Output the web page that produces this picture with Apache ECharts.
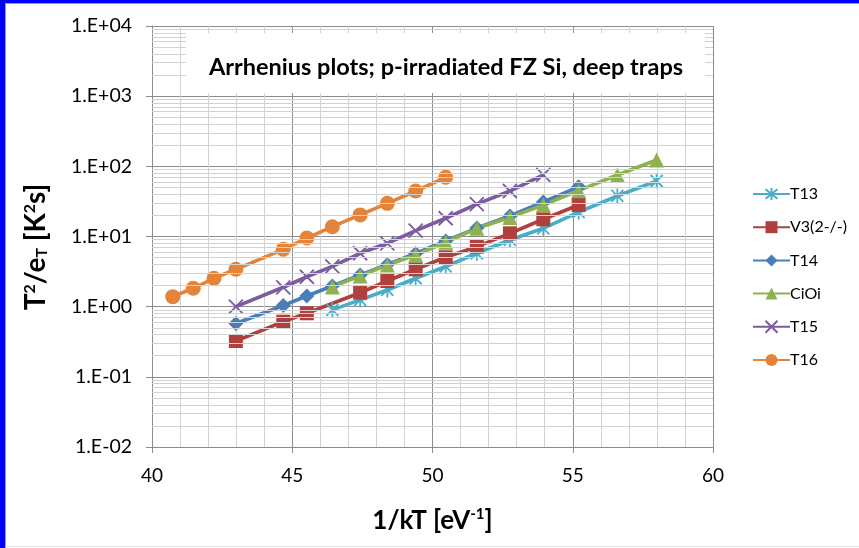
<!DOCTYPE html>
<html>
<head>
<meta charset="utf-8">
<script src="https://cdn.jsdelivr.net/npm/echarts@6/dist/echarts.min.js"></script>
<style>
  html, body { margin: 0; padding: 0; background: #fff; }
  #chart { width: 859px; height: 548px; }
</style>
</head>
<body>
<div id="chart"></div>
<script>
// 1/kT positions (eV^-1) and T^2/e_T values (K^2 s) for each trap
const t13X = [46.43, 47.42, 48.39, 49.40, 50.47, 51.58, 52.76, 53.95, 55.21, 56.59, 57.99];
const t13Y = [0.90, 1.25, 1.73, 2.54, 3.74, 5.77, 8.92, 13.1, 22.3, 37.8, 61.8];

const v3X = [42.99, 44.68, 45.52, 47.42, 48.39, 49.40, 50.47, 51.58, 52.76, 53.95, 55.21];
const v3Y = [0.324, 0.611, 0.805, 1.58, 2.32, 3.41, 5.06, 7.16, 11.1, 17.6, 28.1];

const t14X = [42.99, 44.68, 45.52, 46.43, 47.42, 48.39, 49.40, 50.47, 51.58, 52.76, 53.95, 55.21];
const t14Y = [0.575, 1.04, 1.42, 1.97, 2.83, 3.99, 5.73, 8.63, 13.2, 19.6, 31.0, 51.0];

const cioiX = [46.43, 47.42, 48.39, 49.40, 50.47, 51.58, 52.76, 53.95, 55.21, 56.59, 57.99];
const cioiY = [1.91, 2.74, 3.93, 5.45, 8.27, 13.1, 18.7, 28.1, 45.0, 75.3, 123];

const t15X = [42.99, 44.68, 45.52, 46.43, 47.42, 48.39, 49.40, 50.47, 51.58, 52.76, 53.95];
const t15Y = [1.0, 1.89, 2.67, 3.76, 5.77, 8.0, 12.1, 18.2, 29.0, 44.5, 75.3];

const t16X = [40.74, 41.47, 42.21, 42.99, 44.68, 45.52, 46.43, 47.42, 48.39, 49.40, 50.47];
const t16Y = [1.39, 1.83, 2.54, 3.41, 6.57, 9.5, 13.8, 20.3, 29.7, 44.5, 69.8];

const seriesNames = ['T13', 'V3(2-/-)', 'T14', 'CiOi', 'T15', 'T16'];
const yTickValues = [0.01, 0.1, 1, 10, 100, 1000, 10000];
const yTickLabels = ['1.E-02', '1.E-01', '1.E+00', '1.E+01', '1.E+02', '1.E+03', '1.E+04'];
const xTicks = [40, 45, 50, 55, 60];

const FONT = 'Lato, "Noto Sans", sans-serif';
const MAJOR = '#8c8c8c';
const MINOR = '#d2d2d2';

// log-decade subdivisions (2..9 of every decade) used for the fine horizontal grid
const minorY = [];
for (let d = -2; d < 4; d++) {
  for (let m = 2; m <= 9; m++) minorY.push(+(m * Math.pow(10, d)).toPrecision(3));
}

const ASTERISK = 'path://M0,-10 L0,10 M-8,-8 L8,8 M-8,8 L8,-8';
const CROSS = 'path://M-10,-10 L10,10 M-10,10 L10,-10';

function pairs(xs, ys) { return xs.map((x, i) => [x, ys[i]]); }

function lineSeries(name, xs, ys, color, symbol, size, stroked) {
  return {
    name: name,
    type: 'line',
    data: pairs(xs, ys),
    symbol: symbol,
    symbolSize: size,
    symbolKeepAspect: true,
    showAllSymbol: true,
    lineStyle: { color: color, width: 3.6 },
    itemStyle: stroked
      ? { color: color, borderColor: color, borderWidth: 1.8 }
      : { color: color, borderWidth: 0 },
    z: 3,
    animation: false
  };
}

const chart = echarts.init(document.getElementById('chart'), null, { renderer: 'canvas' });

chart.setOption({
  backgroundColor: '#ffffff',
  animation: false,
  grid: { left: 152, right: 146, top: 26, bottom: 101, containLabel: false },
  legend: {
    orient: 'vertical',
    left: 752,
    top: 186,
    padding: 0,
    itemWidth: 37,
    itemHeight: 15,
    itemGap: 17.2,
    data: seriesNames,
    textStyle: { fontFamily: FONT, fontSize: 16, color: '#000', padding: [0, 0, 0, -5] }
  },
  xAxis: {
    type: 'value',
    min: 40,
    max: 60,
    interval: 5,
    axisLine: { show: true, lineStyle: { color: MAJOR, width: 1 } },
    axisTick: { show: true, length: 6, lineStyle: { color: MAJOR } },
    axisLabel: {
      margin: 19, fontFamily: FONT, fontSize: 19, color: '#000',
      formatter: v => (xTicks.indexOf(v) >= 0 ? String(v) : '')
    },
    splitLine: { show: true, lineStyle: { color: MAJOR, width: 1 } },
    minorTick: { show: false, splitNumber: 5 },
    minorSplitLine: { show: true, lineStyle: { color: MINOR, width: 1 } },
    name: '{b|1/kT [eV}{sup|-1}{b|]}',
    nameLocation: 'middle',
    nameGap: 60,
    nameTextStyle: {
      rich: {
        b: { fontFamily: FONT, fontWeight: 'bold', fontSize: 26, color: '#000' },
        sup: { fontFamily: FONT, fontWeight: 'bold', fontSize: 15, color: '#000', padding: [0, 0, 13, 0] }
      }
    }
  },
  yAxis: {
    type: 'log',
    logBase: 10,
    min: 0.01,
    max: 10000,
    splitNumber: 6,
    axisLine: { show: true, lineStyle: { color: MAJOR, width: 1 } },
    axisTick: { show: true, length: 6, lineStyle: { color: MAJOR } },
    axisLabel: {
      margin: 20, fontFamily: FONT, fontSize: 19.5, color: '#000',
      formatter: v => {
        let best = 0;
        yTickValues.forEach((t, i) => {
          if (Math.abs(Math.log10(t) - Math.log10(v)) < Math.abs(Math.log10(yTickValues[best]) - Math.log10(v))) best = i;
        });
        return yTickLabels[best];
      }
    },
    splitLine: { show: true, lineStyle: { color: MAJOR, width: 1 } }
  },
  graphic: [
    // outer frame: blue edge at left and top
    { type: 'rect', left: 0, top: 0, shape: { width: 859, height: 3 }, style: { fill: '#0000ff' }, z: 100, silent: true },
    { type: 'rect', left: 0, top: 0, shape: { width: 5, height: 548 }, style: { fill: '#0000ff' }, z: 100, silent: true },
    { type: 'rect', left: 5, top: 3, shape: { width: 854, height: 1 }, style: { fill: '#a0a0a0' }, z: 100, silent: true },
    { type: 'rect', left: 5, top: 3, shape: { width: 1, height: 545 }, style: { fill: '#a0a0a0' }, z: 100, silent: true },
    { type: 'rect', left: 5, top: 546, shape: { width: 854, height: 1 }, style: { fill: '#e4e4e4' }, z: 100, silent: true },
    // white title box inside the plot area
    { type: 'rect', left: 186, top: 33, shape: { width: 519, height: 60 }, style: { fill: '#ffffff' }, z: 50, silent: true },
    {
      type: 'text', z: 51, silent: true,
      x: 446, y: 67,
      style: {
        text: 'Arrhenius plots; p-irradiated FZ Si, deep traps',
        fontFamily: FONT, fontWeight: 'bold', fontSize: 23.5, fill: '#000',
        align: 'center', verticalAlign: 'middle'
      }
    },
    // vertical axis title
    {
      type: 'text', z: 51, silent: true,
      x: 36, y: 247, rotation: Math.PI / 2,
      style: {
        text: '{b|T}{sup|2}{b|/e}{sub|T}{b| [K}{sup|2}{b|s]}',
        align: 'center', verticalAlign: 'middle',
        rich: {
          b: { fontFamily: FONT, fontWeight: 'bold', fontSize: 28, fill: '#000' },
          sup: { fontFamily: FONT, fontWeight: 'bold', fontSize: 16, fill: '#000', padding: [0, 0, 13, 0] },
          sub: { fontFamily: FONT, fontWeight: 'bold', fontSize: 16, fill: '#000', padding: [11, 0, 0, 0] }
        }
      }
    }
  ],
  series: [
    {
      name: 'grid-minor',
      type: 'line',
      data: [],
      silent: true,
      z: 1,
      markLine: {
        silent: true,
        symbol: 'none',
        label: { show: false },
        animation: false,
        lineStyle: { color: MINOR, width: 1, type: 'solid' },
        data: minorY.map(v => ({ yAxis: v }))
      }
    },
    lineSeries('T13', t13X, t13Y, '#4bacc6', ASTERISK, 15, true),
    lineSeries('V3(2-/-)', v3X, v3Y, '#b0403d', 'rect', 14, false),
    lineSeries('T14', t14X, t14Y, '#4a7ebb', 'diamond', 15, false),
    lineSeries('CiOi', cioiX, cioiY, '#8db24f', 'triangle', 15, false),
    lineSeries('T15', t15X, t15Y, '#7b5c9e', CROSS, 14, true),
    lineSeries('T16', t16X, t16Y, '#e3843a', 'circle', 15, false)
  ]
});
</script>
</body>
</html>
